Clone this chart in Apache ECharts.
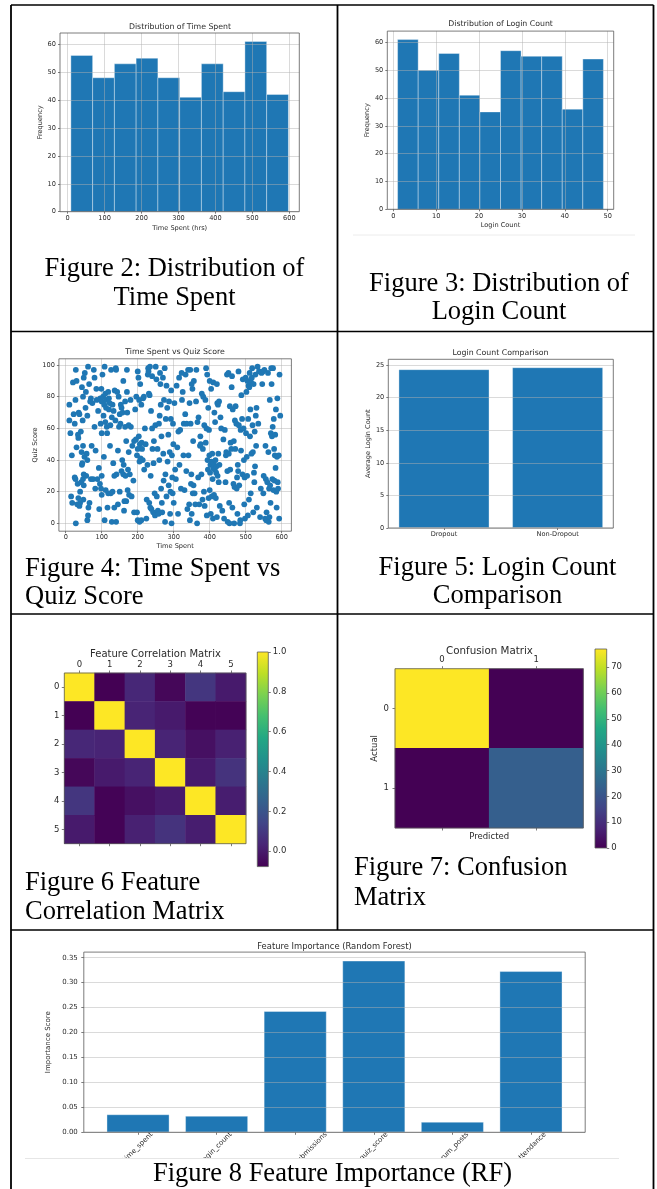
<!DOCTYPE html>
<html><head><meta charset="utf-8">
<script src="https://cdn.jsdelivr.net/npm/echarts@6/dist/echarts.min.js"></script>
<style>html,body{margin:0;padding:0;background:#fff;}#c{width:657px;height:1189px;}</style>
</head><body><div id="c"></div>
<script>
// ---------------- DATA ----------------
const timeBinEdges = [8.7, 67.6, 126.5, 185.3, 244.2, 303.1, 362.0, 420.9, 479.7, 538.6, 597.5];
const timeCounts = [56, 48, 53, 55, 48, 41, 53, 43, 61, 42];
const loginBinEdges = [1, 5.8, 10.6, 15.4, 20.2, 25, 29.8, 34.6, 39.4, 44.2, 49];
const loginCounts = [61, 50, 56, 41, 35, 57, 55, 55, 36, 54];
const scatterPoints = [
[10,75],[10,65],[13,57],[15,17],[17,43],[18,13],[20,89],[22,69],[25,63],[27,78],[25,29],[27,28],[28,0],[28,97],[30,48],[30,90],[32,12],[33,25],[34,56],[35,16],[35,54],[36,70],[38,69],[38,11],[40,20],[40,13],[42,58],[43,26],[44,45],[45,37],[45,86],[46,38],[47,65],[48,49],[48,28],[49,15],[50,92],[50,31],[50,24],[48,80],
[52,42],[53,95],[55,73],[56,83],[57,30],[58,44],[60,2],[60,40],[60,68],[62,5],[62,99],[63,10],[65,88],[66,13],[68,77],[70,28],[70,79],[72,49],[74,76],[76,28],[78,97],[80,92],[80,61],[82,22],[83,46],[85,85],[86,78],[88,28],[90,71],[92,35],[93,9],[95,25],[96,79],[98,22],[99,85],[100,77],[100,57],[100,30],[100,18],[97,63],
[102,94],[104,80],[105,68],[106,42],[107,75],[108,2],[108,99],[110,82],[110,64],[111,21],[112,73],[113,78],[114,61],[115,57],[116,10],[118,83],[118,19],[120,72],[120,79],[122,76],[123,49],[124,62],[125,19],[126,97],[128,1],[128,67],[130,75],[130,20],[132,38],[133,71],[135,10],[135,30],[136,84],[138,65],[139,98],[140,97],[140,1],[141,31],[143,83],[145,46],[145,12],[147,80],[148,61],[150,69],[150,20],
[152,63],[153,75],[155,73],[155,33],[157,40],[158,70],[160,90],[160,31],[161,37],[162,8],[163,14],[165,61],[165,77],[166,30],[168,52],[168,14],[170,83],[170,97],[171,70],[172,21],[173,34],[175,45],[175,62],[176,18],[178,31],[180,78],[181,61],[183,17],[185,49],[188,27],[190,52],[190,7],[193,72],[195,53],[196,80],[198,43],[198,7],[200,96],[200,47],[200,2],
[202,92],[203,55],[204,78],[205,39],[205,1],[206,50],[207,88],[208,41],[210,2],[210,75],[211,51],[212,47],[214,40],[215,79],[217,80],[218,34],[220,60],[222,50],[224,3],[225,15],[227,37],[228,94],[229,98],[230,96],[231,82],[232,13],[233,81],[234,99],[235,10],[236,30],[237,71],[238,9],[240,60],[240,93],[241,47],[243,7],[244,38],[245,52],[247,19],[248,5],[249,62],[250,99],
[252,91],[253,17],[255,47],[256,8],[258,6],[259,63],[260,40],[261,68],[262,95],[263,88],[264,75],[265,22],[266,55],[267,13],[268,7],[270,92],[271,44],[272,27],[273,78],[275,98],[276,1],[277,31],[278,66],[280,87],[280,17],[282,73],[283,39],[285,56],[286,24],[287,77],[289,45],[290,6],[291,20],[292,66],[293,84],[294,0],[295,43],[296,29],[297,19],[298,63],[299,50],[300,13],
[302,76],[304,34],[306,28],[308,87],[310,48],[312,6],[313,58],[315,92],[316,37],[318,59],[320,22],[322,95],[323,78],[325,83],[327,43],[328,63],[330,21],[332,69],[333,94],[335,33],[336,63],[338,9],[340,97],[341,43],[343,12],[344,76],[345,2],[346,97],[347,63],[348,25],[349,31],[350,88],[350,6],
[352,85],[353,19],[354,52],[355,24],[356,90],[358,19],[360,12],[362,77],[363,97],[365,0],[366,64],[368,29],[369,67],[371,12],[373,49],[374,55],[375,50],[377,31],[378,82],[380,15],[381,47],[382,80],[384,20],[385,62],[386,11],[388,78],[389,51],[390,98],[391,60],[392,5],[393,94],[394,40],[395,34],[396,73],[397,16],[398,59],[400,90],[400,21],[399,43],
[401,32],[402,37],[403,6],[404,85],[405,39],[406,17],[407,44],[408,28],[409,3],[410,89],[410,35],[411,38],[412,18],[413,70],[414,34],[415,64],[416,40],[417,16],[418,32],[419,36],[420,88],[420,4],[421,76],[422,30],[423,75],[424,44],[425,26],[426,77],[427,37],[428,11],[430,67],[432,60],[435,8],[438,53],[440,3],[442,59],[444,26],[445,43],[446,45],[448,94],[449,33],[450,1],
[452,95],[453,44],[454,13],[455,0],[456,74],[457,34],[458,51],[460,47],[461,86],[462,93],[463,10],[464,72],[466,25],[467,52],[468,0],[469,23],[470,65],[471,47],[472,74],[474,63],[475,22],[476,29],[477,6],[478,37],[479,33],[480,96],[481,62],[482,24],[484,0],[485,2],[486,59],[487,46],[488,81],[490,66],[491,31],[492,91],[494,60],[495,40],[496,12],[497,29],[498,3],[500,92],
[501,57],[502,83],[503,42],[504,30],[505,90],[506,5],[507,66],[508,87],[509,15],[510,86],[511,95],[512,55],[513,72],[514,19],[515,89],[516,44],[517,92],[518,98],[519,62],[520,45],[521,7],[522,88],[523,32],[524,26],[525,58],[526,36],[527,94],[528,68],[529,49],[530,73],[531,10],[533,99],[535,63],[537,96],[540,4],[542,22],[544,95],[546,88],[548,96],[550,30],[549,19],
[552,97],[554,3],[555,49],[556,28],[557,2],[558,7],[560,26],[562,95],[563,45],[564,1],[565,22],[566,4],[567,78],[568,24],[569,13],[570,57],[571,98],[572,88],[573,55],[574,28],[575,61],[576,98],[577,21],[578,66],[579,47],[580,27],[581,43],[582,56],[583,35],[584,72],[585,20],[586,10],[587,42],[588,79],[589,26],[590,22],[592,43],[594,94],[596,68],[593,3]
];
const groupLabels = ['Dropout', 'Non-Dropout'];
const avgLoginCount = [24.35, 24.65];
const corrLabels = ['0', '1', '2', '3', '4', '5'];
const corrMatrix = [
  [1.00, -0.077, 0.04, -0.06, 0.09, 0.00],
  [-0.077, 1.00, 0.03, 0.00, -0.07, -0.07],
  [0.04, 0.03, 1.00, 0.03, -0.03, 0.02],
  [-0.06, 0.00, 0.03, 1.00, 0.00, 0.08],
  [0.09, -0.07, -0.03, 0.00, 1.00, 0.01],
  [0.00, -0.07, 0.02, 0.08, 0.01, 1.00]
];
const confLabels = ['0', '1'];
const confusion = [[77, 0], [0, 23]];
const featureNames = ['time_spent', 'login_count', 'assignment_submissions', 'quiz_score', 'forum_posts', 'attendance'];
const importance = [0.036, 0.033, 0.243, 0.344, 0.021, 0.323];
const timeTicks = [0, 100, 200, 300, 400, 500, 600];
const freqTicks = [0, 10, 20, 30, 40, 50, 60];
const loginTicks = [0, 10, 20, 30, 40, 50];
const quizTicks = [0, 20, 40, 60, 80, 100];
const avgTicks = [0, 5, 10, 15, 20, 25];
const corrBarTicks = [0, 0.2, 0.4, 0.6, 0.8, 1.0];
const confBarTicks = [0, 10, 20, 30, 40, 50, 60, 70];
const importanceTicks = [0, 0.05, 0.10, 0.15, 0.20, 0.25, 0.30, 0.35];

// ---------------- STYLE ----------------
const FONT = '"DejaVu Sans", sans-serif';
const TXT = '#2b2b2b';
const SPINE = '#5a5a5a';
const BLUE = '#1f77b4';
const GRIDC = 'rgba(176,176,176,0.6)';
const VIRIDIS = ['#440154','#482475','#414487','#355f8d','#2a788e','#21918c','#22a884','#44bf70','#7ad151','#bddf26','#fde725'];

function axis(o) {
  const fs = o.fs || 6.6;
  const a = {
    type: o.type || 'value', gridIndex: o.grid, position: o.position,
    inverse: !!o.inverse, z: o.z || 0, show: o.show !== false,
    axisLine: { show: false, onZero: false },
    axisTick: { show: o.tickShow !== false, length: o.tickLen || 2, inside: false,
      lineStyle: { color: SPINE, width: 0.8 }, alignWithLabel: true, interval: 0 },
    axisLabel: { show: o.labelShow !== false, fontFamily: FONT, fontSize: fs, color: TXT,
      margin: o.margin == null ? 4 : o.margin, interval: 0 },
    splitLine: { show: !!o.split, lineStyle: { color: GRIDC, width: 0.8 } }
  };
  if (a.type === 'value') {
    a.min = o.min; a.max = o.max;
    if (o.ticks) { a.axisTick.customValues = o.ticks; a.axisLabel.customValues = o.ticks; }
  } else { a.data = o.data; }
  if (o.formatter) a.axisLabel.formatter = o.formatter;
  if (o.rich) a.axisLabel.rich = o.rich;
  if (o.rotate) a.axisLabel.rotate = o.rotate;
  if (o.align) { a.axisLabel.align = o.align; a.axisLabel.verticalAlign = o.valign; }
  if (o.name) {
    a.name = o.name; a.nameLocation = 'middle'; a.nameGap = o.nameGap;
    a.nameTextStyle = { fontFamily: FONT, fontSize: o.nameFs || fs, color: TXT };
  }
  return a;
}

const grids = [
  { left: 60, top: 33, width: 239.3, height: 178.7 },        // 0 fig2
  { left: 387.3, top: 31.1, width: 226.4, height: 178.2 },   // 1 fig3
  { left: 58.9, top: 358.8, width: 232.5, height: 172.4 },   // 2 fig4
  { left: 388.3, top: 359.3, width: 225, height: 168.7 },    // 3 fig5
  { left: 64.3, top: 673, width: 181.7, height: 170.7 },     // 4 fig6
  { left: 257.3, top: 652, width: 11, height: 214.6 },       // 5 fig6 colorbar
  { left: 395, top: 668.7, width: 188.3, height: 159.3 },    // 6 fig7
  { left: 595, top: 649, width: 11.7, height: 199 },         // 7 fig7 colorbar
  { left: 83.8, top: 952.1, width: 501.4, height: 180.2 }    // 8 fig8
].map(g => Object.assign({ show: true, z: 4, borderColor: SPINE, borderWidth: 0.8,
  backgroundColor: 'transparent', containLabel: false, outerBoundsMode: 'none' }, g));

// Fig 8 rotated labels: centred under each tick like matplotlib
const F8FS = 7;
const mctx = document.createElement('canvas').getContext('2d');
mctx.font = F8FS + 'px "DejaVu Sans"';
const f8rich = {};
featureNames.forEach((n, i) => {
  const L = mctx.measureText(n).width;
  const s = 0.354 * (L + 8) - 1.8;
  const P = 1.414 * s;
  f8rich['l' + i] = { fontFamily: FONT, fontSize: F8FS, color: TXT, padding: [P, P, 0, 0] };
});

const xAxes = [
  axis({ grid: 0, position: 'bottom', min: -20.7, max: 626.9, ticks: timeTicks, split: true, z: 3, margin: 3,
    name: 'Time Spent (hrs)', nameGap: 13 }),
  axis({ grid: 1, position: 'bottom', min: -1.4, max: 51.4, ticks: loginTicks, split: true, z: 3, margin: 3,
    name: 'Login Count', nameGap: 12.5 }),
  axis({ grid: 2, position: 'bottom', min: -19, max: 627, ticks: timeTicks, split: true, margin: 3,
    name: 'Time Spent', nameGap: 12 }),
  axis({ grid: 3, position: 'bottom', min: -0.49, max: 1.49, ticks: [0, 1], margin: 3,
    formatter: v => groupLabels[Math.round(v)] }),
  axis({ grid: 4, type: 'category', position: 'top', data: corrLabels, fs: 8.5, margin: 4, tickLen: 2.5 }),
  axis({ grid: 4, type: 'category', position: 'bottom', data: corrLabels, labelShow: false, tickLen: 2.5 }),
  axis({ grid: 5, position: 'bottom', min: 0, max: 1, show: false }),
  axis({ grid: 6, type: 'category', position: 'top', data: confLabels, fs: 8.5, margin: 4, tickLen: 2.5 }),
  axis({ grid: 6, type: 'category', position: 'bottom', data: confLabels, labelShow: false, tickLen: 2.5,
    name: 'Predicted', nameGap: 4, fs: 8.5 }),
  axis({ grid: 7, position: 'bottom', min: 0, max: 1, show: false }),
  axis({ grid: 8, position: 'bottom', min: -0.69, max: 5.69, ticks: [0, 1, 2, 3, 4, 5], margin: 0, tickLen: 2.5,
    fs: F8FS, rotate: 45, align: 'center', valign: 'middle', rich: f8rich,
    formatter: v => '{l' + Math.round(v) + '|' + featureNames[Math.round(v)] + '}' })
];
const yAxes = [
  axis({ grid: 0, position: 'left', min: 0, max: 64.05, ticks: freqTicks, split: true, z: 3, margin: 4,
    name: 'Frequency', nameGap: 15.5 }),
  axis({ grid: 1, position: 'left', min: 0, max: 64.05, ticks: freqTicks, split: true, z: 3, margin: 4,
    name: 'Frequency', nameGap: 15 }),
  axis({ grid: 2, position: 'left', min: -4.95, max: 103.95, ticks: quizTicks, split: true, margin: 4,
    name: 'Quiz Score', nameGap: 18 }),
  axis({ grid: 3, position: 'left', min: 0, max: 25.88, ticks: avgTicks, split: true, z: 3, margin: 4,
    name: 'Average Login Count', nameGap: 16 }),
  axis({ grid: 4, type: 'category', position: 'left', data: corrLabels, inverse: true, fs: 8.5, margin: 5, tickLen: 2.5 }),
  axis({ grid: 5, position: 'right', min: -0.077, max: 1.0, ticks: corrBarTicks, fs: 8.5, margin: 4.5, tickLen: 2.5,
    formatter: v => v.toFixed(1) }),
  axis({ grid: 6, type: 'category', position: 'left', data: confLabels, inverse: true, fs: 8.5, margin: 6, tickLen: 2.5,
    name: 'Actual', nameGap: 15 }),
  axis({ grid: 7, position: 'right', min: 0, max: 77, ticks: confBarTicks, fs: 8.5, margin: 4.5, tickLen: 2.5 }),
  axis({ grid: 8, position: 'left', min: 0, max: 0.3612, ticks: importanceTicks, split: true, z: 3, fs: F8FS, margin: 6, tickLen: 2.5,
    formatter: v => v.toFixed(2), name: 'Importance Score', nameGap: 23 })
];

function histItem(params, api) {
  const p0 = api.coord([api.value(0), api.value(2)]);
  const p1 = api.coord([api.value(1), 0]);
  return { type: 'rect', shape: { x: p0[0], y: p0[1], width: p1[0] - p0[0], height: p1[1] - p0[1] },
    style: { fill: BLUE, stroke: 'rgba(255,255,255,0.45)', lineWidth: 0.8 } };
}
function cbarItem(params, api) {
  const pt = api.coord([0, api.value(1)]);
  const pb = api.coord([1, api.value(0)]);
  return { type: 'rect', shape: { x: pt[0], y: pt[1], width: pb[0] - pt[0], height: pb[1] - pt[1] },
    style: { fill: new echarts.graphic.LinearGradient(0, 1, 0, 0,
      VIRIDIS.map((c, i) => ({ offset: i / (VIRIDIS.length - 1), color: c }))) } };
}

const corrData = [];
corrMatrix.forEach((row, r) => row.forEach((v, c) => corrData.push([c, r, v])));
const confData = [];
confusion.forEach((row, r) => row.forEach((v, c) => confData.push([c, r, v])));

const series = [
  { type: 'custom', xAxisIndex: 0, yAxisIndex: 0, renderItem: histItem, encode: { x: [0, 1], y: 2 },
    data: timeCounts.map((c, i) => [timeBinEdges[i], timeBinEdges[i + 1], c]) },
  { type: 'custom', xAxisIndex: 1, yAxisIndex: 1, renderItem: histItem, encode: { x: [0, 1], y: 2 },
    data: loginCounts.map((c, i) => [loginBinEdges[i], loginBinEdges[i + 1], c]) },
  { type: 'scatter', xAxisIndex: 2, yAxisIndex: 2, symbolSize: 5.8, data: scatterPoints,
    itemStyle: { color: BLUE, opacity: 1 } },
  { type: 'bar', xAxisIndex: 3, yAxisIndex: 3, barWidth: 90.9, data: avgLoginCount.map((v, i) => [i, v]),
    itemStyle: { color: BLUE, borderColor: 'rgba(255,255,255,0.45)', borderWidth: 0.8 } },
  { type: 'heatmap', xAxisIndex: 4, yAxisIndex: 4, data: corrData, itemStyle: { borderWidth: 0 } },
  { type: 'custom', xAxisIndex: 6, yAxisIndex: 5, renderItem: cbarItem, encode: { y: [0, 1] },
    data: [[-0.077, 1.0]] },
  { type: 'heatmap', xAxisIndex: 7, yAxisIndex: 6, data: confData, itemStyle: { borderWidth: 0 } },
  { type: 'custom', xAxisIndex: 9, yAxisIndex: 7, renderItem: cbarItem, encode: { y: [0, 1] },
    data: [[0, 77]] },
  { type: 'bar', xAxisIndex: 10, yAxisIndex: 8, barWidth: 62.9, data: importance.map((v, i) => [i, v]),
    itemStyle: { color: BLUE, borderColor: 'rgba(255,255,255,0.45)', borderWidth: 0.8 } }
];

function gtext(text, x, y, font, align, fill) {
  return { type: 'text', z: 100, style: { text: text, x: x, y: y, font: font, fill: fill || TXT,
    align: align, textAlign: align, verticalAlign: 'middle', textVerticalAlign: 'middle' } };
}
function gline(x1, y1, x2, y2, color, w) {
  return { type: 'line', z: 101, shape: { x1: x1, y1: y1, x2: x2, y2: y2 },
    style: { stroke: color, lineWidth: w } };
}
const CAP = '26.5px "Liberation Serif", "Times New Roman", serif';
const T8 = '7.8px "DejaVu Sans"';
const graphic = [
  // clip the rotated labels of fig 8 like the cropped original
  { type: 'rect', z: 99, shape: { x: 12, y: 1158.5, width: 640, height: 31 }, style: { fill: '#fff' } },
  gline(25, 1158.5, 619, 1158.5, '#e6e6e6', 1),
  gline(353, 235, 635, 235, '#ececec', 1),
  // table rules
  gline(11, 5, 653.5, 5, '#000', 1.6),
  gline(11, 5, 11, 1189, '#000', 1.8),
  gline(653.5, 5, 653.5, 1189, '#000', 1.8),
  gline(337.5, 5, 337.5, 930, '#000', 1.8),
  gline(11, 331.5, 653.5, 331.5, '#000', 1.6),
  gline(11, 614, 653.5, 614, '#000', 1.6),
  gline(11, 930, 653.5, 930, '#000', 1.6),
  // chart titles
  gtext('Distribution of Time Spent', 180, 26.7, T8, 'center'),
  gtext('Distribution of Login Count', 500.6, 24.3, T8, 'center'),
  gtext('Time Spent vs Quiz Score', 175, 352.3, T8, 'center'),
  gtext('Login Count Comparison', 500.5, 353.3, T8, 'center'),
  gtext('Feature Correlation Matrix', 155.5, 654.3, '10px "DejaVu Sans"', 'center'),
  gtext('Confusion Matrix', 489.5, 651, '10.3px "DejaVu Sans"', 'center'),
  gtext('Feature Importance (Random Forest)', 334.5, 946.7, '8.4px "DejaVu Sans"', 'center'),
  // captions
  gtext('Figure 2: Distribution of', 174.5, 269.5, CAP, 'center', '#000'),
  gtext('Time Spent', 174.5, 298.5, CAP, 'center', '#000'),
  gtext('Figure 3: Distribution of', 499, 284.5, CAP, 'center', '#000'),
  gtext('Login Count', 499, 312.5, CAP, 'center', '#000'),
  gtext('Figure 4: Time Spent vs', 25, 569.5, CAP, 'left', '#000'),
  gtext('Quiz Score', 25, 597, CAP, 'left', '#000'),
  gtext('Figure 5: Login Count', 497.5, 568.5, CAP, 'center', '#000'),
  gtext('Comparison', 497.5, 596, CAP, 'center', '#000'),
  gtext('Figure 6 Feature', 25, 883, CAP, 'left', '#000'),
  gtext('Correlation Matrix', 25, 912, CAP, 'left', '#000'),
  gtext('Figure 7: Confusion', 354, 868, CAP, 'left', '#000'),
  gtext('Matrix', 354, 898, CAP, 'left', '#000'),
  gtext('Figure 8 Feature Importance (RF)', 332.5, 1174.5, CAP, 'center', '#000')
];

const option = {
  animation: false,
  backgroundColor: '#fff',
  textStyle: { fontFamily: FONT },
  grid: grids,
  xAxis: xAxes,
  yAxis: yAxes,
  visualMap: [
    { type: 'continuous', show: false, seriesIndex: 4, min: -0.077, max: 1.0, inRange: { color: VIRIDIS } },
    { type: 'continuous', show: false, seriesIndex: 6, min: 0, max: 77, inRange: { color: VIRIDIS } }
  ],
  series: series,
  graphic: graphic
};
const chart = echarts.init(document.getElementById('c'), null, { renderer: 'canvas' });
chart.setOption(option);
</script>
</body></html>
